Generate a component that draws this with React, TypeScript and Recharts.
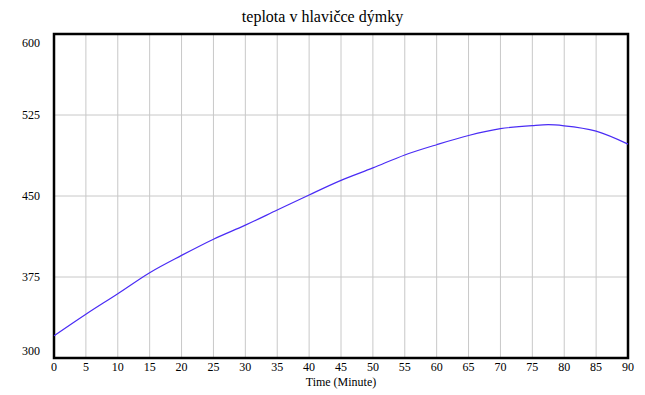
import { LineChart, Line, XAxis, YAxis, CartesianGrid, ReferenceArea } from "recharts";

const minutes = [0, 5, 10, 15, 20, 25, 30, 35, 40, 45, 50, 55, 60, 65, 70, 75, 77.5, 80, 85, 90];
const temperature = [320.5, 340.5, 359.5, 379, 395, 410, 423, 437, 451, 464.5, 476, 488, 497.5, 506, 512.3, 515.2, 516, 515, 510, 498];
const xTicks = [0, 5, 10, 15, 20, 25, 30, 35, 40, 45, 50, 55, 60, 65, 70, 75, 80, 85, 90];
const yTicks = [300, 375, 450, 525, 600];

const data = minutes.map((t, i) => ({ t, temp: temperature[i] }));

const FONT = "Times New Roman, Liberation Serif, Times, serif";

function YTick(props: any) {
  const { x, y, payload } = props;
  // lowest and highest labels are nudged inside the frame
  const shift = payload.value === 300 ? -7 : payload.value === 600 ? 9 : 0;
  return (
    <text x={x} y={y + shift} dy="0.35em" textAnchor="end" fontSize={12} fontFamily={FONT} fill="#000">
      {payload.value}
    </text>
  );
}

export default function App() {
  return (
    <div style={{ position: "absolute", left: 0, top: 0, width: 645, height: 395, background: "#fff", fontFamily: FONT }}>
      <div
        style={{
          position: "absolute",
          left: 0,
          width: 645,
          top: 8,
          textAlign: "center",
          fontFamily: FONT,
          fontSize: 16,
        }}
      >
        teplota v hlavičce dýmky
      </div>
      <LineChart width={645} height={395} data={data} margin={{ top: 34, right: 17, bottom: 0, left: 0 }}>
        <CartesianGrid stroke="#c8c8c8" strokeWidth={1} />
        <XAxis
          dataKey="t"
          type="number"
          domain={[0, 90]}
          ticks={xTicks}
          interval={0}
          height={37}
          axisLine={false}
          tickLine={false}
          tickSize={0}
          tickMargin={4}
          tick={{ fontSize: 12, fontFamily: FONT, fill: "#000" }}
          label={{ value: "Time (Minute)", position: "insideBottom", offset: 9, fontSize: 12, fontFamily: FONT, fill: "#000" }}
        />
        <YAxis
          type="number"
          domain={[300, 600]}
          ticks={yTicks}
          interval={0}
          width={54}
          axisLine={false}
          tickLine={false}
          tickSize={0}
          tickMargin={14}
          tick={<YTick />}
        />
        <ReferenceArea x1={0} x2={90} y1={300} y2={600} fill="none" stroke="#000" strokeWidth={2.5} ifOverflow="visible" />
        <Line
          type="monotone"
          dataKey="temp"
          stroke="#4a2cf5"
          strokeWidth={1.2}
          dot={false}
          isAnimationActive={false}
        />
      </LineChart>
    </div>
  );
}
